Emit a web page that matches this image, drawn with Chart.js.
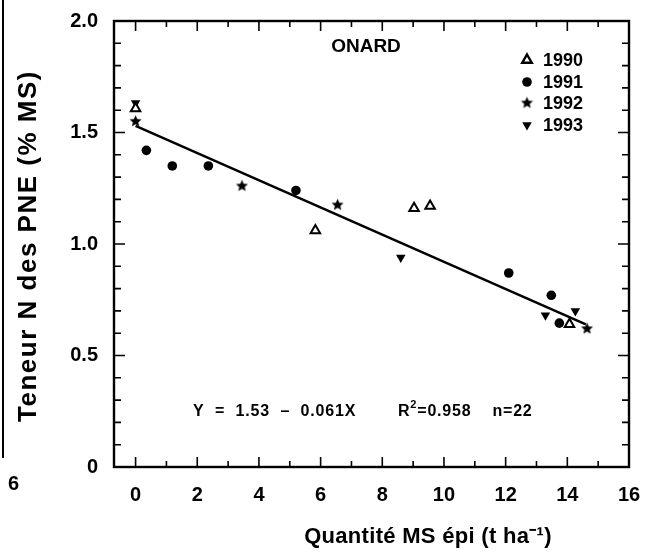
<!DOCTYPE html>
<html>
<head>
<meta charset="utf-8">
<script src="https://cdn.jsdelivr.net/npm/chart.js@4.4.1/dist/chart.umd.min.js"></script>
<style>
  html, body { margin: 0; padding: 0; background: #fff; }
</style>
</head>
<body>
<canvas id="chart" width="645" height="558"></canvas>
<script>
const years = ["1990", "1991", "1992", "1993"];

// values
const x1990 = [0, 5.83, 9.03, 9.55, 14.07];
const y1990 = [1.608, 1.06, 1.16, 1.17, 0.64];
const x1991 = [0.35, 1.19, 2.36, 5.2, 12.1, 13.48, 13.74];
const y1991 = [1.42, 1.35, 1.35, 1.24, 0.87, 0.77, 0.645];
const x1992 = [0, 3.45, 6.55, 14.64];
const y1992 = [1.55, 1.26, 1.175, 0.62];
const x1993 = [0, 8.6, 13.29, 14.26];
const y1993 = [1.632, 0.94, 0.68, 0.70];

// regression line ends
const fitX = [0, 14.6];
const fitY = [1.53, 0.64];

const xTicks = [0, 2, 4, 6, 8, 10, 12, 14, 16];
const xMinor = [1, 3, 5, 7, 9, 11, 13, 15];
const yTicks = [0, 0.5, 1.0, 1.5, 2.0];
const yTickLabels = ["0", "0.5", "1.0", "1.5", "2.0"];
const yMinor = [0.1, 0.2, 0.3, 0.4, 0.6, 0.7, 0.8, 0.9, 1.1, 1.2, 1.3, 1.4, 1.6, 1.7, 1.8, 1.9];

const siteName = "ONARD";
const xTitle = "Quantité MS épi (t ha\u207B\u00B9)";
const yTitle = "Teneur N des PNE (% MS)";
const eqText = "Y  =  1.53  \u2013  0.061X";
const r2Text = "=0.958    n=22";

const FONT = "'Liberation Sans', Arial, Helvetica, sans-serif";

function pts(xs, ys) {
  return xs.map((v, i) => ({x: v, y: ys[i]}));
}

function starImage(r) {
  const c = document.createElement("canvas");
  const s = Math.ceil(r * 2 + 2);
  c.width = s;
  c.height = s;
  const g = c.getContext("2d");
  g.beginPath();
  for (let i = 0; i < 10; i++) {
    const rr = i % 2 ? r * 0.45 : r;
    const a = -Math.PI / 2 + i * Math.PI / 5;
    g.lineTo(s / 2 + rr * Math.cos(a), s / 2 + rr * Math.sin(a));
  }
  g.closePath();
  g.fillStyle = "#000";
  g.fill();
  return c;
}

const star = starImage(6.3);

// marker style per year
const styles = [
  {pointStyle: "triangle", radius: 5.5, rotation: 0, bg: "#fff", borderWidth: 2},
  {pointStyle: "circle", radius: 4.8, rotation: 0, bg: "#000", borderWidth: 0},
  {pointStyle: star, radius: 6, rotation: 0, bg: "#000", borderWidth: 0},
  {pointStyle: "triangle", radius: 5.5, rotation: 180, bg: "#000", borderWidth: 0}
];

const series = [pts(x1990, y1990), pts(x1991, y1991), pts(x1992, y1992), pts(x1993, y1993)];

const datasets = series.map((d, i) => ({
  type: "scatter",
  label: years[i],
  data: d,
  pointStyle: styles[i].pointStyle,
  pointRadius: styles[i].radius,
  pointRotation: styles[i].rotation,
  pointBackgroundColor: styles[i].bg,
  pointBorderColor: "#000",
  pointBorderWidth: styles[i].borderWidth,
  order: 1
}));

datasets.push({
  type: "line",
  label: "fit",
  data: pts(fitX, fitY),
  borderColor: "#000",
  borderWidth: 2.5,
  pointRadius: 0,
  fill: false,
  order: 2
});

const decor = {
  id: "decor",
  afterDraw(chart) {
    const {ctx, chartArea: a, scales: {x, y}} = chart;
    ctx.save();
    ctx.strokeStyle = "#000";
    ctx.fillStyle = "#000";

    // inward ticks on all four sides
    ctx.lineWidth = 1.6;
    ctx.beginPath();
    const tickX = (vals, len) => vals.forEach(v => {
      const px = x.getPixelForValue(v);
      ctx.moveTo(px, a.bottom); ctx.lineTo(px, a.bottom - len);
      ctx.moveTo(px, a.top); ctx.lineTo(px, a.top + len);
    });
    const tickY = (vals, len) => vals.forEach(v => {
      const py = y.getPixelForValue(v);
      ctx.moveTo(a.left, py); ctx.lineTo(a.left + len, py);
      ctx.moveTo(a.right, py); ctx.lineTo(a.right - len, py);
    });
    tickX(xTicks, 10);
    tickX(xMinor, 6);
    tickY(yTicks, 11);
    tickY(yMinor, 7);
    ctx.stroke();

    // frame
    ctx.lineWidth = 2.4;
    ctx.strokeRect(a.left, a.top, a.right - a.left, a.bottom - a.top);

    // site name
    ctx.font = "bold 19px " + FONT;
    ctx.textAlign = "center";
    ctx.textBaseline = "middle";
    ctx.fillText(siteName, 366, 47);

    // axis titles
    ctx.font = "bold 22px " + FONT;
    ctx.letterSpacing = "0.3px";
    ctx.fillText(xTitle, 428, 537);
    ctx.save();
    ctx.translate(29, 246);
    ctx.rotate(-Math.PI / 2);
    ctx.font = "bold 26px " + FONT;
    ctx.letterSpacing = "1.5px";
    ctx.fillText(yTitle, 0, 0);
    ctx.restore();
    ctx.letterSpacing = "0px";

    // legend
    const rowY = [60, 82, 103, 125];
    ctx.textAlign = "left";
    ctx.font = "bold 18px " + FONT;
    styles.forEach((s, i) => {
      ctx.fillStyle = s.bg;
      ctx.strokeStyle = "#000";
      Chart.helpers.drawPoint(ctx, {
        pointStyle: s.pointStyle,
        radius: s.radius,
        rotation: s.rotation,
        borderWidth: s.borderWidth
      }, 527, rowY[i]);
      ctx.fillStyle = "#000";
      ctx.fillText(years[i], 543, rowY[i] + 1);
    });

    // regression text
    ctx.letterSpacing = "0.8px";
    ctx.font = "bold 16px " + FONT;
    ctx.fillText(eqText, 193, 412);
    ctx.fillText("R", 398, 412);
    let rx = 398 + ctx.measureText("R").width;
    ctx.font = "bold 11px " + FONT;
    ctx.fillText("2", rx, 405);
    rx += ctx.measureText("2").width;
    ctx.font = "bold 16px " + FONT;
    ctx.fillText(r2Text, rx, 412);
    ctx.letterSpacing = "0px";

    // edge of the neighbouring panel
    ctx.lineWidth = 2;
    ctx.beginPath();
    ctx.moveTo(3, 0);
    ctx.lineTo(3, 458);
    ctx.stroke();
    ctx.font = "bold 20px " + FONT;
    ctx.fillText("6", 8, 484);
    ctx.restore();
  }
};

new Chart(document.getElementById("chart"), {
  data: {datasets},
  options: {
    responsive: false,
    animation: false,
    devicePixelRatio: 1,
    layout: {padding: {top: 21, right: 16, left: 0, bottom: 0}},
    plugins: {legend: {display: false}, tooltip: {enabled: false}},
    scales: {
      x: {
        type: "linear",
        min: -0.7,
        max: 16,
        afterBuildTicks: s => { s.ticks = xTicks.map(v => ({value: v})); },
        afterFit: s => { s.height = 91; s.paddingLeft = 0; s.paddingRight = 0; },
        grid: {display: false, drawTicks: false},
        border: {display: false},
        ticks: {
          color: "#000",
          padding: 16,
          font: {family: FONT, size: 20, weight: "bold"}
        }
      },
      y: {
        type: "linear",
        min: 0,
        max: 2,
        afterBuildTicks: s => { s.ticks = yTicks.map(v => ({value: v})); },
        afterFit: s => { s.width = 114; s.paddingTop = 0; s.paddingBottom = 0; },
        grid: {display: false, drawTicks: false},
        border: {display: false},
        ticks: {
          color: "#000",
          padding: 16,
          font: {family: FONT, size: 20, weight: "bold"},
          callback: v => yTickLabels[yTicks.indexOf(v)]
        }
      }
    }
  },
  plugins: [decor]
});
</script>
</body>
</html>
